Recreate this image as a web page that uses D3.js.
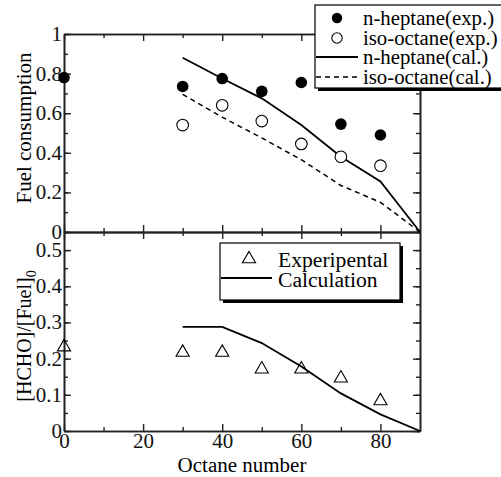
<!DOCTYPE html>
<html>
<head>
<meta charset="utf-8">
<script src="https://cdn.jsdelivr.net/npm/d3@7"></script>
<style>
  html, body { margin: 0; padding: 0; background: #fff; }
  svg { display: block; }
</style>
</head>
<body>
<div id="chart"></div>
<script>
// Data
const expOctane = [0, 30, 40, 50, 60, 70, 80];
const heptaneExp = [0.78, 0.735, 0.775, 0.71, 0.755, 0.545, 0.49];
const isoOctaneExpOctane = [30, 40, 50, 60, 70, 80];
const isoOctaneExp = [0.54, 0.64, 0.56, 0.445, 0.38, 0.335];
const calcOctane = [30, 40, 50, 60, 70, 80, 90];
const heptaneCal = [0.88, 0.775, 0.675, 0.54, 0.38, 0.255, 0];
const isoOctaneCal = [0.695, 0.58, 0.475, 0.365, 0.235, 0.15, 0];
const hchoExp = [0.232, 0.217, 0.217, 0.171, 0.171, 0.146, 0.083];
const hchoCal = [0.288, 0.288, 0.243, 0.178, 0.104, 0.046, 0];
const xTicks = [0, 20, 40, 60, 80];
const topYTicks = [0, 0.2, 0.4, 0.6, 0.8, 1];
const bottomYTicks = [0, 0.1, 0.2, 0.3, 0.4, 0.5];
const topLegend = ["n-heptane(exp.)", "iso-octane(exp.)", "n-heptane(cal.)", "iso-octane(cal.)"];
const bottomLegend = ["Experipental", "Calculation"];

const width = 501, height = 477;
const left = 64, right = 420;
const topPanel = { top: 34, bottom: 232 };
const bottomPanel = { top: 232, bottom: 431 };
const frameColor = '#222';
const serif = 'Liberation Serif, Times New Roman, Times, serif';

const svg = d3.select('#chart').append('svg')
    .attr('width', width)
    .attr('height', height)
    .attr('font-family', serif);

const x = d3.scaleLinear().domain([0, 90]).range([left, right]);
const yTop = d3.scaleLinear().domain([0, 1]).range([topPanel.bottom, topPanel.top]);
const yBot = d3.scaleLinear().domain([0, 0.55]).range([bottomPanel.bottom, bottomPanel.top]);

const fmt = d3.format('~g');

function styleAxis(g) {
    g.attr('font-family', serif);
    g.select('.domain').attr('stroke', frameColor).attr('stroke-width', 1.6);
    g.selectAll('.tick line').attr('stroke', frameColor).attr('stroke-width', 1.4);
    g.selectAll('text')
        .attr('fill', '#111')
        .attr('font-size', 20)
        .classed('stretch', true);
}

function drawFrame(y, yTicks, yMinorStep, panel, showXLabels) {
    const yMinor = d3.range(0, y.domain()[1] + 1e-9, yMinorStep);
    const xMinor = d3.range(10, 90, 20);

    // bottom
    svg.append('g').attr('transform', `translate(0, ${panel.bottom})`)
        .call(d3.axisBottom(x).tickValues(xMinor).tickSize(-4).tickSizeOuter(0).tickFormat(''))
        .call(styleAxis);
    const bx = svg.append('g').attr('transform', `translate(0, ${panel.bottom})`)
        .call(d3.axisBottom(x).tickValues(xTicks).tickSize(-7).tickSizeOuter(0).tickPadding(3)
            .tickFormat(showXLabels ? fmt : ''))
        .call(styleAxis);
    bx.selectAll('text').attr('dy', '0.71em');

    // top
    svg.append('g').attr('transform', `translate(0, ${panel.top})`)
        .call(d3.axisTop(x).tickValues(xMinor).tickSize(-4).tickSizeOuter(0).tickFormat(''))
        .call(styleAxis);
    svg.append('g').attr('transform', `translate(0, ${panel.top})`)
        .call(d3.axisTop(x).tickValues(xTicks).tickSize(-7).tickSizeOuter(0).tickFormat(''))
        .call(styleAxis);

    // left
    svg.append('g').attr('transform', `translate(${left}, 0)`)
        .call(d3.axisLeft(y).tickValues(yMinor).tickSize(-4).tickSizeOuter(0).tickFormat(''))
        .call(styleAxis);
    svg.append('g').attr('transform', `translate(${left}, 0)`)
        .call(d3.axisLeft(y).tickValues(yTicks).tickSize(-7).tickSizeOuter(0).tickPadding(2).tickFormat(fmt))
        .call(styleAxis);

    // right
    svg.append('g').attr('transform', `translate(${right}, 0)`)
        .call(d3.axisRight(y).tickValues(yMinor).tickSize(-4).tickSizeOuter(0).tickFormat(''))
        .call(styleAxis);
    svg.append('g').attr('transform', `translate(${right}, 0)`)
        .call(d3.axisRight(y).tickValues(yTicks).tickSize(-7).tickSizeOuter(0).tickFormat(''))
        .call(styleAxis);
}

drawFrame(yTop, topYTicks, 0.1, topPanel, false);
drawFrame(yBot, bottomYTicks, 0.05, bottomPanel, true);

// ---- top panel marks
const lineTop = d3.line().x((d, i) => x(calcOctane[i])).y(d => yTop(d));

svg.append('path')
    .datum(heptaneCal)
    .attr('fill', 'none')
    .attr('stroke', '#000')
    .attr('stroke-width', 1.8)
    .attr('d', lineTop);

svg.append('path')
    .datum(isoOctaneCal)
    .attr('fill', 'none')
    .attr('stroke', '#000')
    .attr('stroke-width', 1.5)
    .attr('stroke-dasharray', '5,4')
    .attr('d', lineTop);

svg.append('g').selectAll('circle')
    .data(heptaneExp)
    .join('circle')
    .attr('cx', (d, i) => x(expOctane[i]))
    .attr('cy', d => yTop(d))
    .attr('r', 5.8)
    .attr('fill', '#000');

svg.append('g').selectAll('circle')
    .data(isoOctaneExp)
    .join('circle')
    .attr('cx', (d, i) => x(isoOctaneExpOctane[i]))
    .attr('cy', d => yTop(d))
    .attr('r', 5.8)
    .attr('fill', '#fff')
    .attr('stroke', '#000')
    .attr('stroke-width', 1.1);

// ---- bottom panel marks
svg.append('path')
    .datum(hchoCal)
    .attr('fill', 'none')
    .attr('stroke', '#000')
    .attr('stroke-width', 1.8)
    .attr('d', d3.line().x((d, i) => x(calcOctane[i])).y(d => yBot(d)));

const tri = d3.symbol().type(d3.symbolTriangle).size(75);
svg.append('g').selectAll('path')
    .data(hchoExp)
    .join('path')
    .attr('transform', (d, i) => `translate(${x(expOctane[i])}, ${yBot(d)})`)
    .attr('d', tri)
    .attr('fill', 'none')
    .attr('stroke', '#000')
    .attr('stroke-width', 1.1);

// ---- legends
function legendBox(x0, y0, w, h) {
    svg.append('rect')
        .attr('x', x0 + 3).attr('y', y0 + 3)
        .attr('width', w).attr('height', h)
        .attr('fill', '#000');
    svg.append('rect')
        .attr('x', x0).attr('y', y0)
        .attr('width', w).attr('height', h)
        .attr('fill', '#fff')
        .attr('stroke', '#000')
        .attr('stroke-width', 1.2);
}

legendBox(315, 5, 192, 83);
const tl = svg.append('g');
tl.append('circle').attr('cx', 337).attr('cy', 18).attr('r', 5.2).attr('fill', '#000');
tl.append('circle').attr('cx', 337).attr('cy', 38).attr('r', 5.2)
    .attr('fill', '#fff').attr('stroke', '#000').attr('stroke-width', 1.1);
tl.append('line').attr('x1', 316).attr('x2', 358).attr('y1', 57).attr('y2', 57)
    .attr('stroke', '#000').attr('stroke-width', 1.8);
tl.append('line').attr('x1', 316).attr('x2', 358).attr('y1', 77).attr('y2', 77)
    .attr('stroke', '#000').attr('stroke-width', 1.5).attr('stroke-dasharray', '5,4');
tl.selectAll('text')
    .data(topLegend)
    .join('text')
    .attr('class', 'stretch-top')
    .attr('x', 363)
    .attr('y', (d, i) => 25 + i * 19.5)
    .attr('font-size', 20)
    .text(d => d);

legendBox(220, 243, 180, 57);
const bl = svg.append('g');
bl.append('path').attr('transform', 'translate(249, 259)').attr('d', tri)
    .attr('fill', 'none').attr('stroke', '#000').attr('stroke-width', 1.1);
bl.append('line').attr('x1', 221).attr('x2', 272).attr('y1', 278).attr('y2', 278)
    .attr('stroke', '#000').attr('stroke-width', 1.8);
bl.selectAll('text')
    .data(bottomLegend)
    .join('text')
    .attr('class', 'stretch-bottom')
    .attr('x', 278)
    .attr('y', (d, i) => 267 + i * 20)
    .attr('font-size', 20)
    .text(d => d);

// ---- axis titles
svg.append('text')
    .attr('class', 'stretch')
    .attr('transform', 'translate(31, 128) rotate(-90)')
    .attr('text-anchor', 'middle')
    .attr('font-size', 20)
    .text('Fuel consumption');

const hcho = svg.append('text')
    .attr('transform', 'translate(31, 336) rotate(-90)')
    .attr('text-anchor', 'middle')
    .attr('font-size', 20);
hcho.append('tspan').text('[HCHO]/[Fuel]');
hcho.append('tspan').attr('font-size', 14).attr('dy', 5).text('0');

svg.append('text')
    .attr('class', 'stretch')
    .attr('x', 242)
    .attr('y', 472)
    .attr('text-anchor', 'middle')
    .attr('font-size', 20)
    .text('Octane number');

// widen the serif text a little, the original is set slightly expanded
function stretch(sel, k) {
    sel.each(function () {
        const w = this.getComputedTextLength();
        if (w > 0) d3.select(this).attr('textLength', w * k).attr('lengthAdjust', 'spacingAndGlyphs');
    });
}
stretch(svg.selectAll('text.stretch'), 1.05);
stretch(svg.selectAll('text.stretch-top'), 1.04);
stretch(svg.selectAll('text.stretch-bottom'), 1.08);
</script>
</body>
</html>
